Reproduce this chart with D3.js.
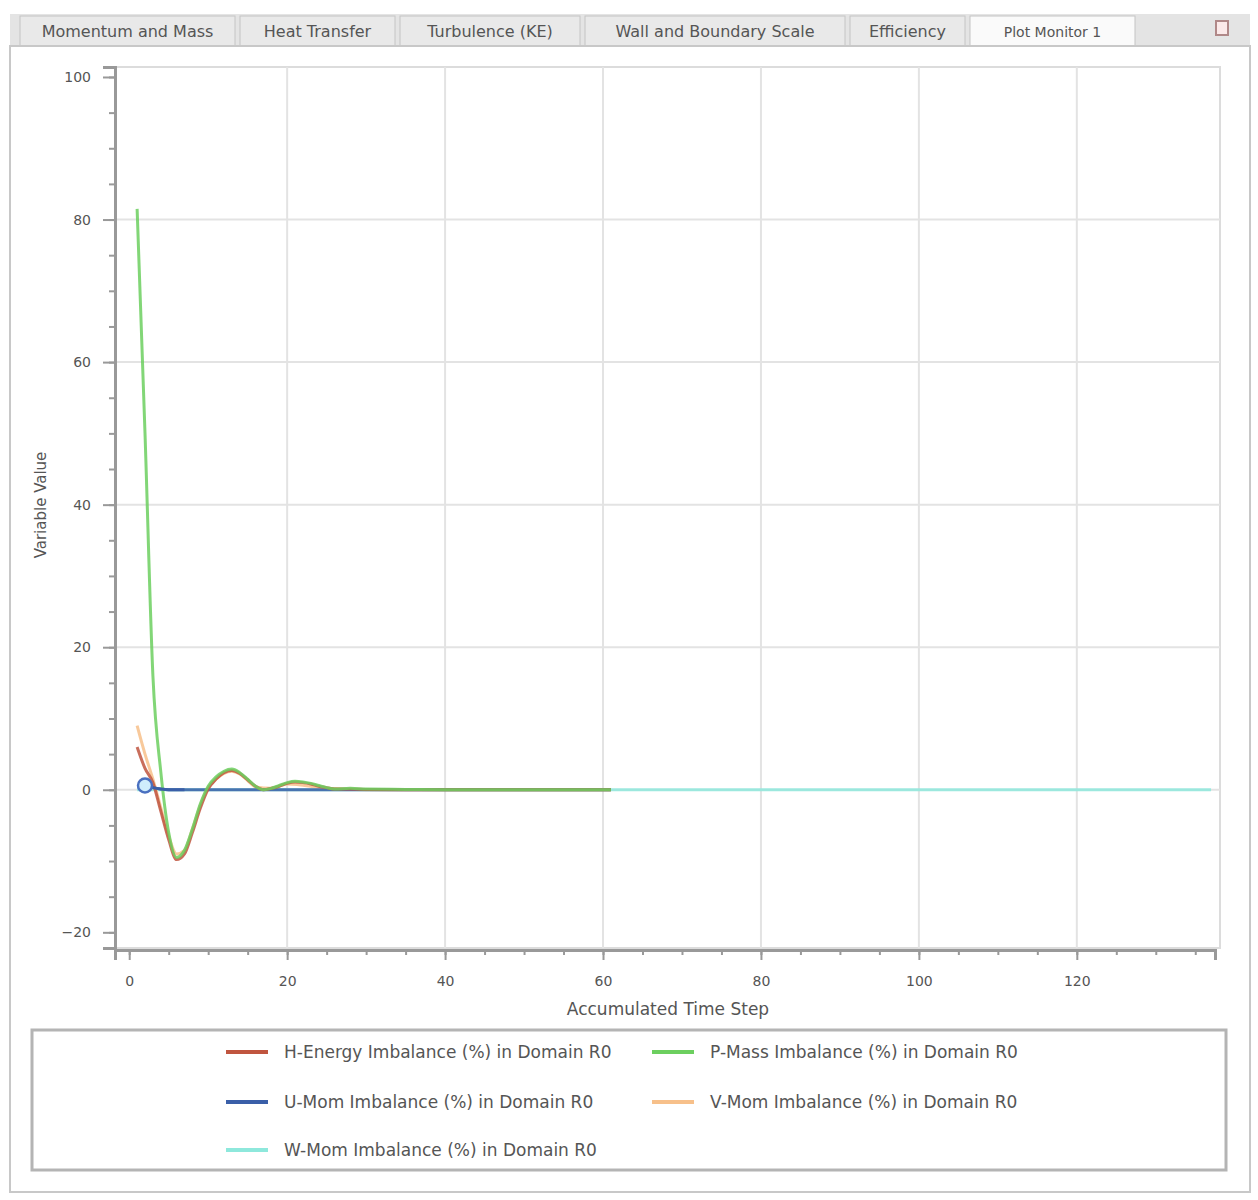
<!DOCTYPE html>
<html>
<head>
<meta charset="utf-8">
<script src="https://cdn.jsdelivr.net/npm/d3@7"></script>
<style>
  body { margin: 0; background: #fff; }
  text { font-family: "DejaVu Sans", sans-serif; }
</style>
</head>
<body>
<div id="chart"></div>
<script>
// tabs across the top
var tabNames = ['Momentum and Mass', 'Heat Transfer', 'Turbulence (KE)', 'Wall and Boundary Scale', 'Efficiency', 'Plot Monitor 1'];
var tabEdges = [20, 240, 400, 585, 850, 970, 1140];

// series (x = accumulated time step, y = imbalance %)
var hEnergyX = [1, 2, 3, 4, 5, 6, 7, 8, 9, 10, 11, 12, 13, 14, 15, 16, 17, 18, 19, 20, 21, 22, 23, 24, 25, 26, 28, 30, 35, 40, 45, 50, 55, 61];
var hEnergyY = [6, 3, 1, -3, -7, -9.8, -9, -6, -2.6, 0.1, 1.5, 2.4, 2.7, 2.3, 1.4, 0.5, 0, 0.2, 0.5, 0.9, 1.1, 1.0, 0.8, 0.5, 0.3, 0.1, 0.1, 0.05, 0, 0, 0, 0, 0, 0];

var pMassX = [1, 2, 3, 4, 5, 6, 7, 8, 9, 10, 11, 12, 13, 14, 15, 16, 17, 18, 19, 20, 21, 22, 23, 24, 25, 26, 28, 30, 35, 40, 45, 50, 55, 61];
var pMassY = [81.5, 50, 16, 2.5, -6, -9.5, -8.5, -5.5, -2, 0.5, 1.8, 2.6, 2.9, 2.4, 1.5, 0.5, 0, 0.2, 0.6, 1.0, 1.2, 1.1, 0.9, 0.6, 0.3, 0.1, 0.2, 0.1, 0.05, 0, 0, 0, 0, 0];

var uMomX = [1, 2, 3, 4, 5, 6, 7, 8, 10, 15, 20, 30, 40, 50, 61];
var uMomY = [0.5, 0.6, 0.3, 0.1, 0, 0, 0, 0, 0, 0, 0, 0, 0, 0, 0];

var vMomX = [1, 2, 3, 4, 5, 6, 7, 8, 9, 10, 11, 12, 13, 14, 15, 16, 18, 20, 25, 30, 40, 50, 61];
var vMomY = [9, 5, 1.5, -2.5, -6.5, -9, -8.5, -5.5, -2.2, 0.3, 1.5, 2.3, 2.6, 2.2, 1.3, 0.4, 0.2, 0.8, 0.2, 0, 0, 0, 0];

var wMomX = [1, 5, 10, 20, 40, 61, 80, 100, 120, 137];
var wMomY = [0, 0, 0, 0, 0, 0, 0, 0, 0, 0];

var seriesNames = ['H-Energy Imbalance (%) in Domain R0', 'P-Mass Imbalance (%) in Domain R0',
                   'U-Mom Imbalance (%) in Domain R0', 'V-Mom Imbalance (%) in Domain R0',
                   'W-Mom Imbalance (%) in Domain R0'];
var seriesColors = ['#c0553f', '#6ccf5f', '#3a5fa8', '#f7c08a', '#8ee8dc'];

var xTicks = [0, 20, 40, 60, 80, 100, 120];
var yTicks = [-20, 0, 20, 40, 60, 80, 100];

var W = 1258, H = 1200;
var svg = d3.select('#chart').append('svg')
  .attr('width', W)
  .attr('height', H);

// tab strip
svg.append('rect').attr('x', 10).attr('y', 14).attr('width', 1240).attr('height', 32).attr('fill', '#e4e4e4');
tabNames.forEach(function(t, i) {
  var x0 = tabEdges[i], x1 = tabEdges[i + 1] - 5;
  var active = i == tabNames.length - 1;
  svg.append('rect')
    .attr('x', x0).attr('y', 16).attr('width', x1 - x0).attr('height', 30)
    .attr('fill', active ? '#fafafa' : '#e9e9e9')
    .attr('stroke', '#c4c4c4');
  svg.append('text')
    .attr('x', (x0 + x1) / 2).attr('y', 37)
    .attr('text-anchor', 'middle')
    .attr('font-size', active ? 14 : 16).attr('fill', '#555')
    .text(t);
});
svg.append('rect').attr('x', 1216).attr('y', 21).attr('width', 12).attr('height', 14)
  .attr('fill', '#fbe9e9').attr('stroke', '#b08888').attr('stroke-width', 2);

// panel border
svg.append('rect').attr('x', 10).attr('y', 46).attr('width', 1240).attr('height', 1146)
  .attr('fill', 'none').attr('stroke', '#c8c8c8').attr('stroke-width', 2);

// scales
var x = d3.scaleLinear().domain([-1.8, 137.5]).range([115, 1215]);
var y = d3.scaleLinear().domain([-22.2, 101.4]).range([948, 67]);

// plot frame
svg.append('rect').attr('x', 115).attr('y', 67).attr('width', 1105).attr('height', 881)
  .attr('fill', 'none').attr('stroke', '#dcdcdc').attr('stroke-width', 2);

// grid
svg.append('g').selectAll('line').data(xTicks.slice(1)).enter().append('line')
  .attr('x1', function(d) { return x(d); }).attr('x2', function(d) { return x(d); })
  .attr('y1', 67).attr('y2', 948)
  .attr('stroke', '#e3e3e3').attr('stroke-width', 2);
svg.append('g').selectAll('line').data(yTicks.slice(1, -1)).enter().append('line')
  .attr('x1', 115).attr('x2', 1220)
  .attr('y1', function(d) { return y(d); }).attr('y2', function(d) { return y(d); })
  .attr('stroke', '#e3e3e3').attr('stroke-width', 2);

// axes
var yAxis = svg.append('g').attr('transform', 'translate(115,0)')
  .call(d3.axisLeft(y).tickValues(yTicks).tickSize(12).tickPadding(12));
var yMinor = svg.append('g').attr('transform', 'translate(115,0)')
  .call(d3.axisLeft(y).ticks(25).tickSize(6).tickFormat(''));
var xAxis = svg.append('g').attr('transform', 'translate(0,950)')
  .call(d3.axisBottom(x).tickValues(xTicks).tickSize(10).tickPadding(16));
var xMinor = svg.append('g').attr('transform', 'translate(0,950)')
  .call(d3.axisBottom(x).ticks(28).tickSize(5).tickFormat(''));

[yAxis, yMinor, xAxis, xMinor].forEach(function(a) {
  a.selectAll('path').attr('stroke', '#999').attr('stroke-width', 3);
  a.selectAll('line').attr('stroke', '#999').attr('stroke-width', 2);
  a.selectAll('text').attr('font-size', 14).attr('fill', '#555');
});
yMinor.select('path').remove();
xMinor.select('path').remove();

svg.append('text')
  .attr('transform', 'translate(46,505) rotate(-90)')
  .attr('text-anchor', 'middle').attr('font-size', 15).attr('fill', '#555')
  .text('Variable Value');
svg.append('text')
  .attr('x', 668).attr('y', 1015)
  .attr('text-anchor', 'middle').attr('font-size', 17).attr('fill', '#555')
  .text('Accumulated Time Step');

// lines
var line = d3.line()
  .x(function(d) { return x(d[0]); })
  .y(function(d) { return y(d[1]); })
  .curve(d3.curveMonotoneX);

function pairs(xs, ys) { return xs.map(function(v, i) { return [v, ys[i]]; }); }

var drawOrder = [
  {data: pairs(wMomX, wMomY), color: seriesColors[4]},
  {data: pairs(vMomX, vMomY), color: seriesColors[3]},
  {data: pairs(uMomX, uMomY), color: seriesColors[2]},
  {data: pairs(hEnergyX, hEnergyY), color: seriesColors[0]},
  {data: pairs(pMassX, pMassY), color: seriesColors[1]}
];

svg.append('g').selectAll('path').data(drawOrder).enter().append('path')
  .attr('d', function(d) { return line(d.data); })
  .attr('fill', 'none')
  .attr('stroke', function(d) { return d.color; })
  .attr('stroke-width', 3)
  .attr('stroke-opacity', 0.85);

// blue short segment on top near the start
svg.append('path')
  .attr('d', line(pairs(uMomX.slice(1, 7), uMomY.slice(1, 7))))
  .attr('fill', 'none').attr('stroke', seriesColors[2]).attr('stroke-width', 3);

svg.append('circle')
  .attr('cx', x(uMomX[1])).attr('cy', y(uMomY[1])).attr('r', 7)
  .attr('fill', '#cfeefc').attr('stroke', '#4a70c0').attr('stroke-width', 2.5);

// legend
svg.append('rect').attr('x', 32).attr('y', 1030).attr('width', 1194).attr('height', 140)
  .attr('fill', '#fff').attr('stroke', '#b4b4b4').attr('stroke-width', 3);

var legendPos = [[226, 1052], [652, 1052], [226, 1102], [652, 1102], [226, 1150]];
var lg = svg.append('g').selectAll('g').data(seriesNames).enter().append('g')
  .attr('transform', function(d, i) { return 'translate(' + legendPos[i][0] + ',' + legendPos[i][1] + ')'; });
lg.append('line').attr('x1', 0).attr('x2', 42).attr('y1', 0).attr('y2', 0)
  .attr('stroke', function(d, i) { return seriesColors[i]; }).attr('stroke-width', 4);
lg.append('text').attr('x', 58).attr('y', 6)
  .attr('font-size', 17).attr('fill', '#555')
  .text(function(d) { return d; });
</script>
</body>
</html>
